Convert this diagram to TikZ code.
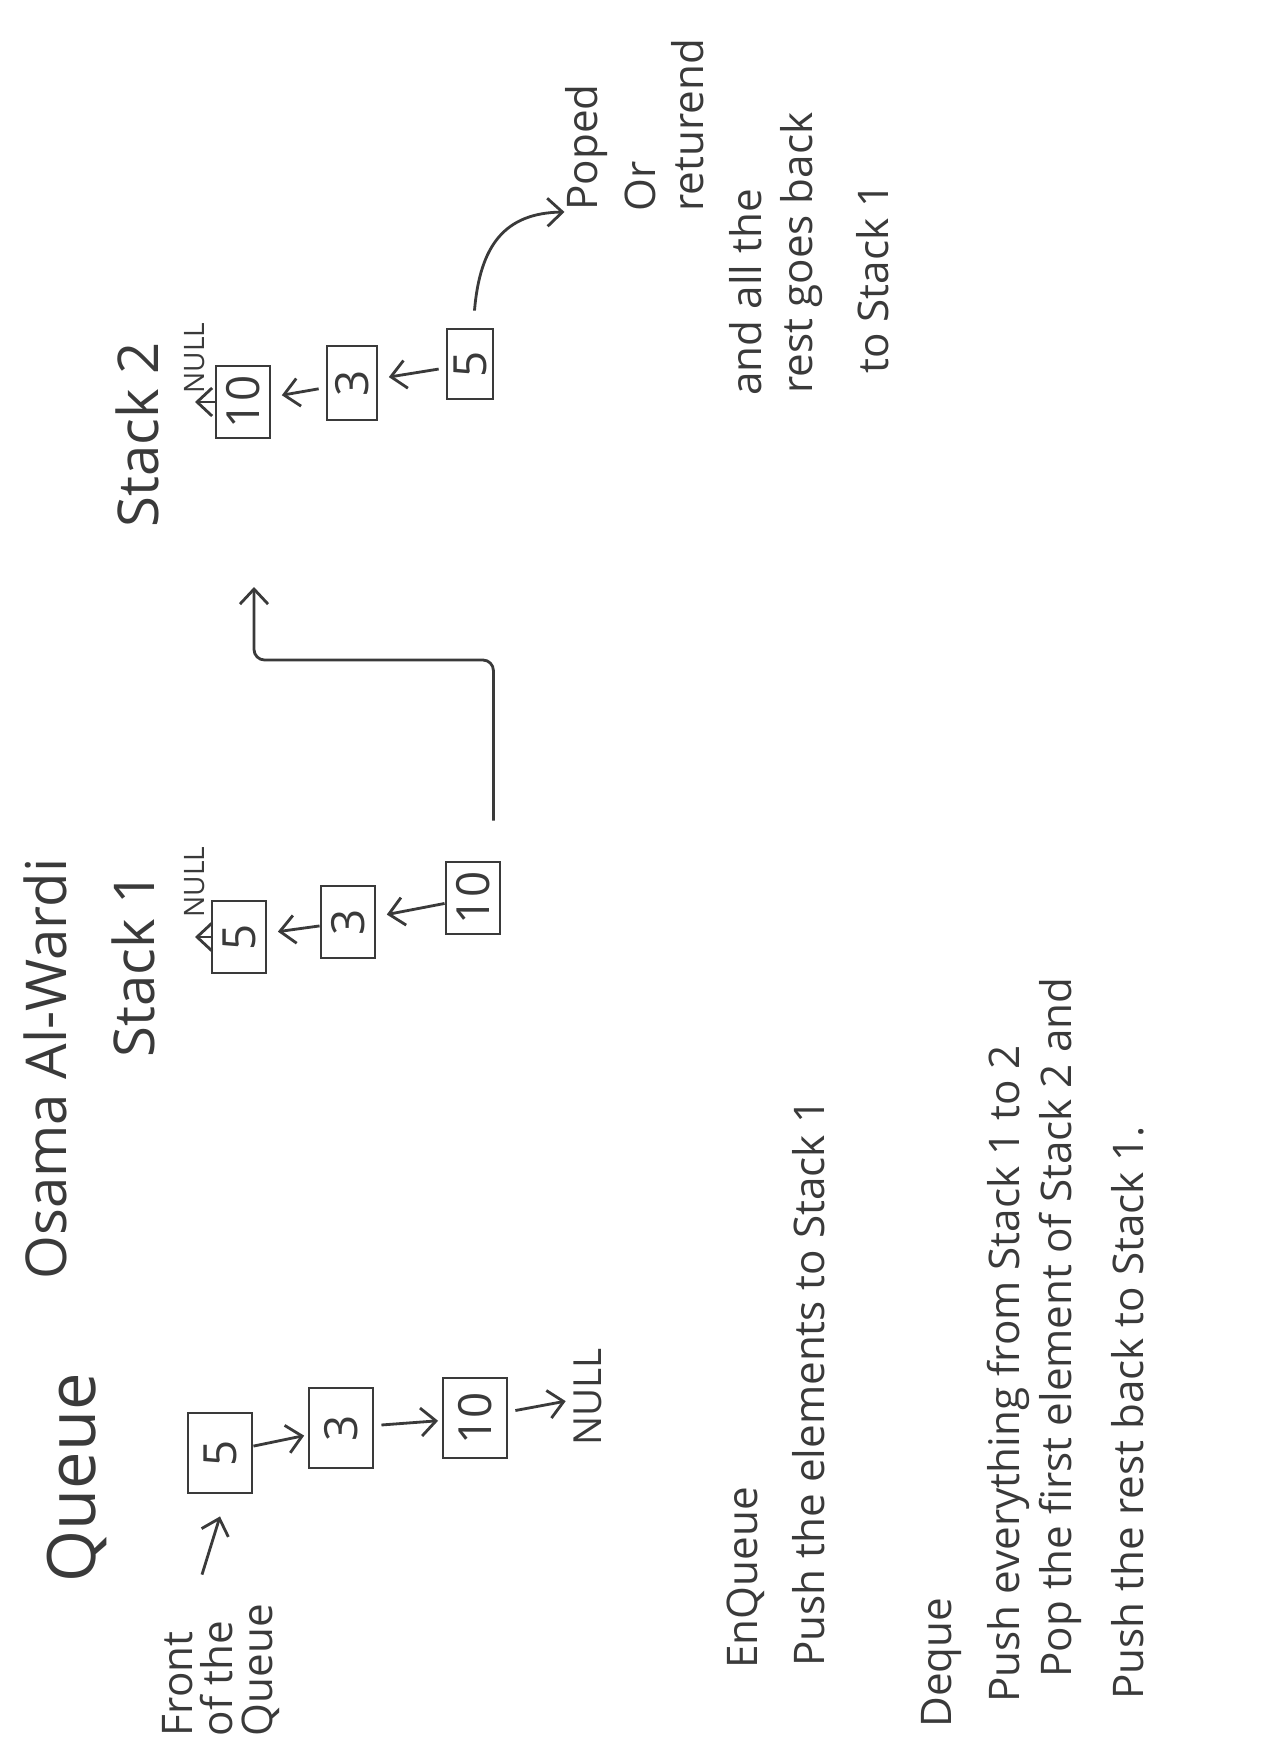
\documentclass[tikz,border=0pt]{standalone}
\usepackage{fontspec}
\setmainfont{Open Sans}
\usepackage{xcolor}
\usepackage{tikz}
\usetikzlibrary{arrows.meta, calc}

\definecolor{ink}{HTML}{3A3A3A}

\begin{document}
\begin{tikzpicture}[x=0.01cm, y=-0.01cm, line width=0.8pt, color=ink,
    arr/.style={-{Straight Barb[length=1.5mm, width=2.8mm]}},
    box/.style={draw, rotate=90, inner sep=0pt, minimum width=0.72cm, minimum height=0.54cm, font=\fontsize{13}{13}\selectfont},
    qbox/.style={box, minimum width=0.8cm, minimum height=0.64cm},
    nul/.style={rotate=90, inner sep=0pt, font=\fontsize{8}{8}\selectfont},
    head/.style={rotate=90, inner sep=0pt, font=\fontsize{16}{16}\selectfont},
    line/.style={rotate=90, inner sep=0pt, anchor=west, font=\fontsize{12}{14}\selectfont}]
				\useasboundingbox (0,0) rectangle (1275,1755);
				% Titles:
				\node[head, font=\fontsize{19}{19}\selectfont] (queue) at (77, 1478) {Queue};
				\node[head] (author) at (45, 1069) {Osama Al-Wardi};
				\node[head] (st1) at (133, 965) {Stack 1};
				\node[head] (st2) at (137, 435) {Stack 2};
				% Queue:
				\node[rotate=90, inner sep=0pt, align=left, font=\fontsize{12}{11.5}\selectfont] (front) at (221, 1670) {Front\\of the\\Queue};
				\node[qbox] (q5) at (220, 1453) {5};
				\node[qbox] (q3) at (341, 1428) {3};
				\node[qbox] (q10) at (475, 1418) {10};
				\node[nul, font=\fontsize{11}{11}\selectfont] (qnull) at (588, 1397) {NULL};
				\draw[arr] ($(front.east)+(-19,-28)$) -- ($(q5.west)+(0,22)$);
				\draw[arr, shorten >=1pt] (q5) -- (q3);
				\draw[arr, shorten <=2pt, shorten >=1pt] (q3) -- (q10);
				\draw[arr, shorten <=2pt, shorten >=2pt] (q10) -- (qnull);
				% Stack 1:
				\node[box] (s1b5) at (239, 937) {5};
				\node[box] (s1b3) at (348, 922) {3};
				\node[box] (s1b10) at (473, 898) {10};
				\node[nul] (s1null) at (195, 882) {NULL};
				\draw[arr] (s1b5) -- (s1b5 -| s1null);
				\draw[arr, shorten >=3pt] (s1b3) -- (s1b5);
				\draw[arr, shorten >=3pt] (s1b10) -- (s1b3);
				\coordinate (hook) at (254, 660);
				\coordinate (jump) at (254, 587);
				\draw[arr, rounded corners=3pt] ($(s1b10.south east)+(-8,-40)$) |- (hook) -- (jump);
				% Stack 2:
				\node[box] (s2b10) at (243, 402) {10};
				\node[box, minimum width=0.74cm, minimum height=0.5cm] (s2b3) at (352, 383) {3};
				\node[box, minimum width=0.7cm, minimum height=0.46cm] (s2b5) at (470, 364) {5};
				\node[nul] (s2null) at (195, 358) {NULL};
				\draw[arr] (s2b10) -- (s2b10 -| s2null);
				\draw[arr, shorten <=2pt, shorten >=3pt] (s2b3) -- (s2b10);
				\draw[arr, shorten <=2pt, shorten >=3pt] (s2b5) -- (s2b3);
				% Notes:
				\node[line] (popa) at (587, 212) {Poped};
				\node[line] (popb) at (640, 213) {Or};
				\node[line] (popc) at (688, 213) {returend};
				\draw[arr, shorten <=0.17cm] (s2b5) .. controls (480, 245) and (505, 213) .. (popa.north west);
				\node[line] (resta) at (746, 397) {and all the};
				\node[line] (restb) at (802, 395) {rest goes back};
				\node[line] (restc) at (873, 375) {to Stack 1};
				\node[line] (enq) at (746, 1670) {EnQueue};
				\node[line] (enqa) at (809, 1668) {Push the elements to Stack 1};
				\node[line] (deq) at (941, 1729) {Deque};
				\node[line] (deqa) at (1008, 1704) {Push everything from Stack 1 to 2};
				\node[line] (deqb) at (1060, 1679) {Pop the first element of Stack 2 and};
				\node[line] (deqc) at (1128, 1701) {Push the rest back to Stack 1.};
			\end{tikzpicture}
\end{document}
